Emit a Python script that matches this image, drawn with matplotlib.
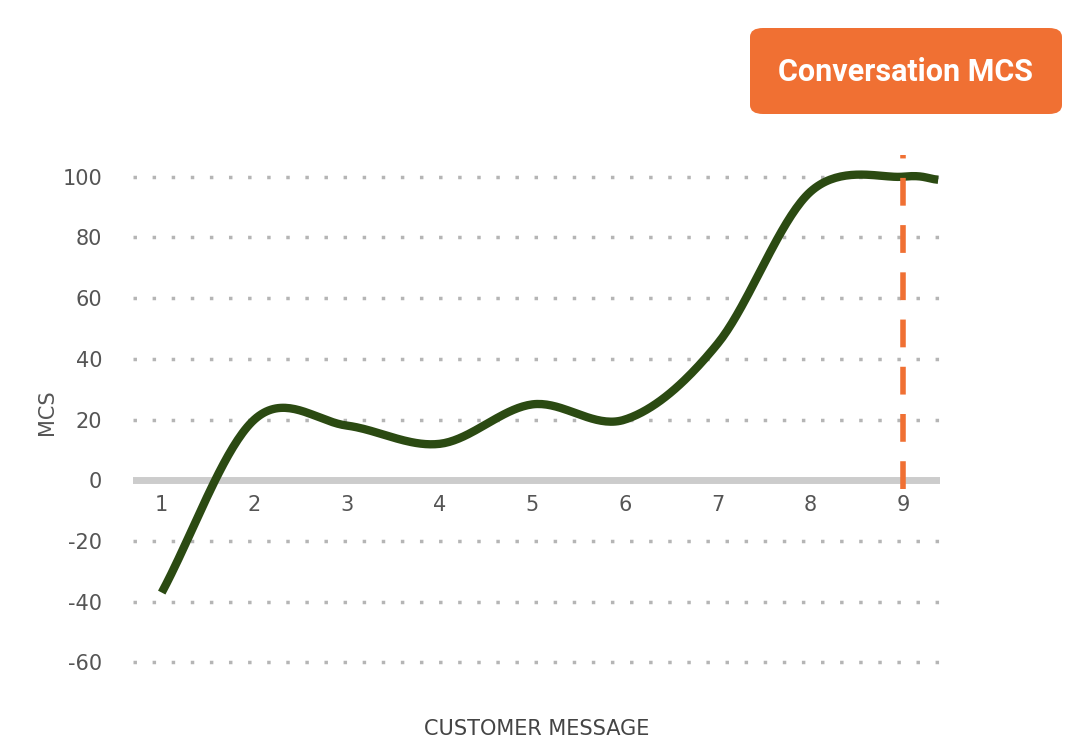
import numpy as np
import matplotlib
matplotlib.use('Agg')
import matplotlib.pyplot as plt
from matplotlib.patches import FancyBboxPatch

messages = [1, 2, 3, 4, 5, 6, 7, 8, 9, 9.38]
mcs = [-37, 20, 18, 12, 25, 20, 45, 95, 100, 99]
yticks = [100, 80, 60, 40, 20, 0, -20, -40, -60]
xticks = [1, 2, 3, 4, 5, 6, 7, 8, 9]


def catmull_rom(xs, ys, n=40):
    xs = np.asarray(xs, float)
    ys = np.asarray(ys, float)
    px = np.concatenate([[2 * xs[0] - xs[1]], xs, [2 * xs[-1] - xs[-2]]])
    py = np.concatenate([[2 * ys[0] - ys[1]], ys, [2 * ys[-1] - ys[-2]]])
    outx, outy = [], []
    t = np.linspace(0, 1, n)
    for i in range(1, len(px) - 2):
        for p, out in ((px, outx), (py, outy)):
            p0, p1, p2, p3 = p[i - 1], p[i], p[i + 1], p[i + 2]
            out.extend(0.5 * (2 * p1 + (-p0 + p2) * t
                              + (2 * p0 - 5 * p1 + 4 * p2 - p3) * t ** 2
                              + (-p0 + 3 * p1 - 3 * p2 + p3) * t ** 3))
    return np.array(outx), np.array(outy)


fig = plt.figure(figsize=(10.88, 7.42), dpi=100)
ax = fig.add_axes([0.122, 0.0868, 0.742, 0.716])
ax.set_xlim(0.687, 9.40)
ax.set_ylim(-65, 110)

for v in yticks:
    if v == 0:
        ax.axhline(0, color='#cccccc', lw=5, zorder=1)
    else:
        ax.axhline(v, color='#b5b5b5', lw=2.5, ls=(0, (1, 4.5)), zorder=1)

sx, sy = catmull_rom(messages, mcs)
ax.plot(sx, sy, color='#2b4a12', lw=6, solid_capstyle='butt', zorder=3)
ax.plot([9, 9], [-3, 107], color='#f07033', lw=4, ls=(0, (5, 3.5)), zorder=4)

for x in xticks:
    ax.text(x, -8, str(x), ha='center', va='center', fontsize=15, color='#555555')

ax.set_yticks(yticks)
ax.set_yticklabels([str(v) for v in yticks], fontsize=15, color='#555555')
ax.tick_params(axis='y', length=0, pad=22)
ax.set_xticks([])
for s in ax.spines.values():
    s.set_visible(False)
ax.set_ylabel('MCS', fontsize=15, color='#555555', labelpad=4)
ax.set_xlabel('CUSTOMER MESSAGE', fontsize=15, color='#444444', labelpad=30)

box = FancyBboxPatch((750 / 1088, 1 - 114 / 742), 312 / 1088, 86 / 742,
                     boxstyle='round,pad=0,rounding_size=0.012',
                     transform=fig.transFigure, facecolor='#f07033',
                     edgecolor='none')
fig.patches.append(box)
fig.text(906 / 1088, 1 - 72 / 742, 'Conversation MCS', ha='center', va='center',
         fontsize=22, color='white', fontweight='bold', fontstretch='condensed',
         family='Roboto')

fig.savefig('out.png', dpi=100)
